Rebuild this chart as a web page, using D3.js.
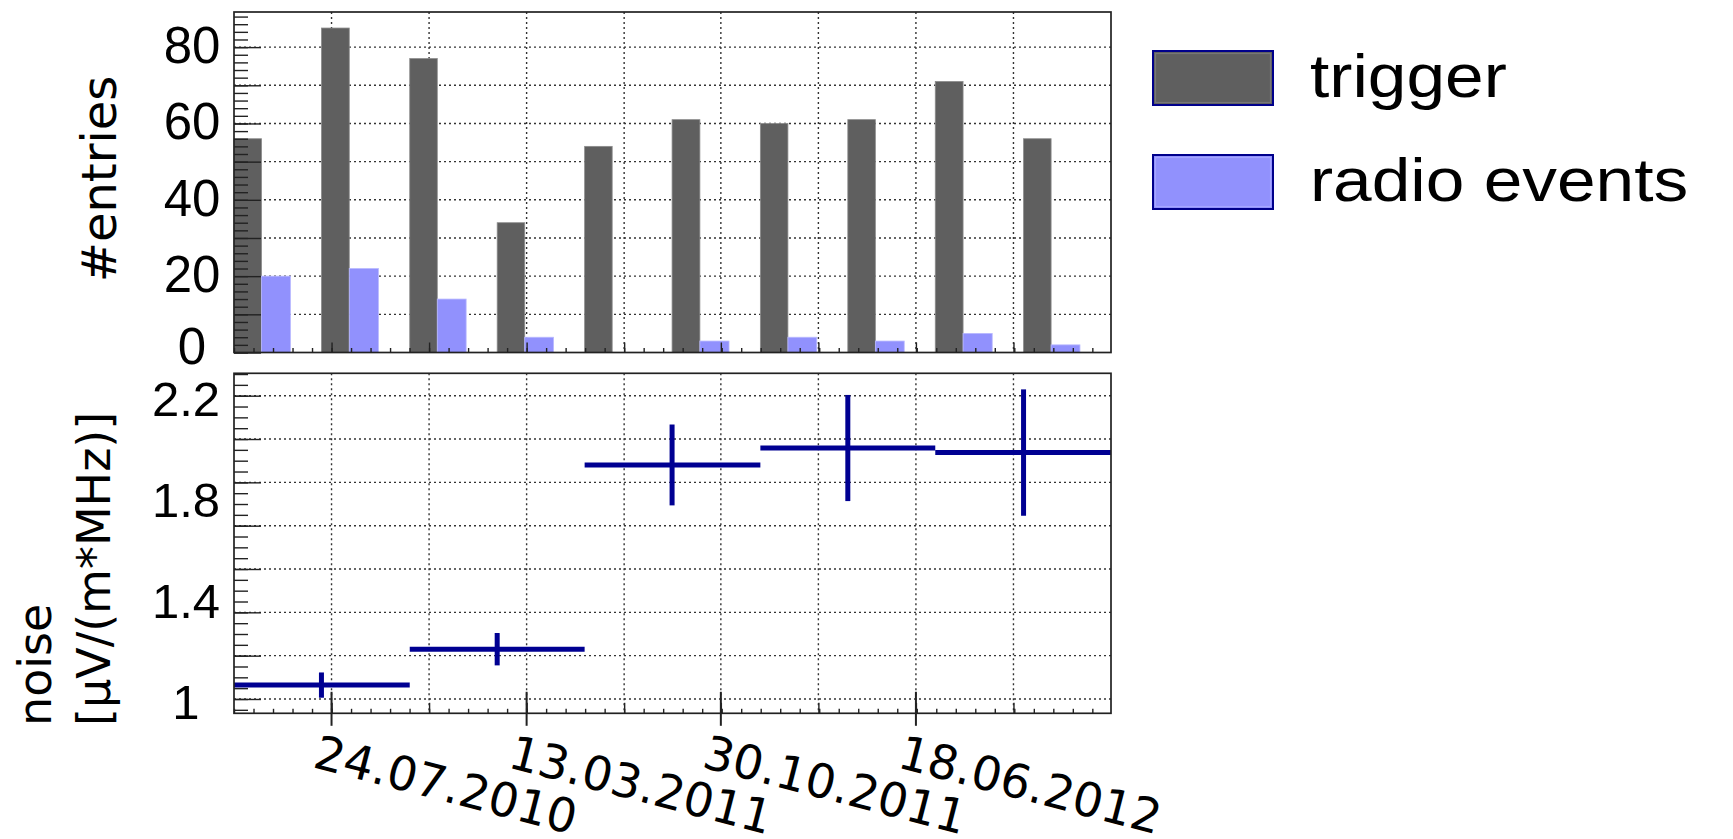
<!DOCTYPE html>
<html>
<head>
<meta charset="utf-8">
<script src="https://cdn.jsdelivr.net/npm/d3@7"></script>
<style>
  body { margin: 0; background: #fff; }
  svg { display: block; }
</style>
</head>
<body>
<svg id="chart" width="1733" height="839"></svg>
<script>
// Edges of the ten counting periods (two periods per noise measurement)
const binEdges = ["2010-03-30", "2010-07-12", "2010-10-25", "2011-02-06", "2011-05-21",
                  "2011-09-02", "2011-12-16", "2012-03-29", "2012-07-11", "2012-10-24", "2013-02-05"];
// Entries per period
const triggerCounts = [56, 85, 77, 34, 54, 61, 60, 61, 71, 56];
const radioCounts   = [20, 22, 14, 4, 0, 3, 4, 3, 5, 2];
// Noise level per pair of periods, with its uncertainty
const noiseValues = [1.055, 1.197, 1.926, 1.993, 1.975];
const noiseErrors = [0.050, 0.064, 0.160, 0.210, 0.250];
// Axis ticks and labels
const dateTickLabels = ["24.07.2010", "13.03.2011", "30.10.2011", "18.06.2012"];
const dateGridLines  = ["2010-07-24", "2010-11-17", "2011-03-13", "2011-07-07",
                        "2011-10-30", "2012-02-23", "2012-06-18", "2012-10-12"];
const countTicks = [0, 20, 40, 60, 80];
const noiseTicks = [1, 1.4, 1.8, 2.2];
const seriesNames = ["trigger", "radio events"];
const seriesColors = ["#5f5f5f", "#9191fd"];

const parseISO = d3.timeParse("%Y-%m-%d");
const parseDMY = d3.timeParse("%d.%m.%Y");
const edges = binEdges.map(parseISO);
const gridDates = dateGridLines.map(parseISO);
const labelDates = dateTickLabels.map(parseDMY);

const svg = d3.select("#chart");
const L = 234, R = 1111;
const top1 = 12, bot1 = 352.5;     // count panel
const top2 = 373.3, bot2 = 713.3;  // noise panel

const x = d3.scaleTime().domain([edges[0], edges[edges.length - 1]]).range([L, R]);
const yCount = d3.scaleLinear().domain([0, 89.2]).range([bot1, top1]);
const yNoise = d3.scaleLinear().domain([0.9434, 2.2886]).range([bot2, top2]);

const gridStyle = sel => sel.attr("stroke", "#333").attr("stroke-width", 1.4)
  .attr("stroke-dasharray", "2,3").attr("fill", "none");

// minor date ticks: five per grid interval
const gridStep = gridDates[1] - gridDates[0];
const minorDates = [];
for (let t = +edges[0]; t <= +edges[edges.length - 1] + 1; t += gridStep / 5) minorDates.push(new Date(t));

// ---------------- count panel ----------------
const g1 = svg.append("g");
g1.selectAll("line.hgrid").data(d3.range(10, 89, 10)).join("line")
  .attr("x1", L).attr("x2", R).attr("y1", d => yCount(d)).attr("y2", d => yCount(d)).call(gridStyle);
g1.selectAll("line.vgrid").data(gridDates).join("line")
  .attr("x1", d => x(d)).attr("x2", d => x(d)).attr("y1", top1).attr("y2", bot1).call(gridStyle);

const bins = triggerCounts.map((c, i) => ({ i, trig: c, radio: radioCounts[i], x0: edges[i], x1: edges[i + 1] }));
const bandW = d => x(d.x1) - x(d.x0);
g1.selectAll("rect.trig").data(bins).join("rect")
  .attr("x", d => x(d.x0)).attr("width", d => bandW(d) * 0.315)
  .attr("y", d => yCount(d.trig)).attr("height", d => yCount(0) - yCount(d.trig))
  .attr("fill", seriesColors[0]).attr("stroke", "#8c8c8c").attr("stroke-width", 0.8);
g1.selectAll("rect.radio").data(bins.filter(d => d.radio > 0)).join("rect")
  .attr("x", d => x(d.x0) + bandW(d) * 0.315).attr("width", d => bandW(d) * 0.33)
  .attr("y", d => yCount(d.radio)).attr("height", d => yCount(0) - yCount(d.radio))
  .attr("fill", seriesColors[1]).attr("stroke", "#b9b9ff").attr("stroke-width", 0.8);

// left ticks
g1.append("g").attr("transform", `translate(${L},0)`)
  .call(d3.axisLeft(yCount).tickValues(d3.range(0, 89, 2)).tickSizeInner(-14).tickSizeOuter(0).tickFormat(""))
  .call(a => a.select(".domain").remove());
g1.append("g").attr("transform", `translate(${L},0)`)
  .call(d3.axisLeft(yCount).tickValues(d3.range(0, 89, 10)).tickSizeInner(-27).tickSizeOuter(0).tickFormat(""))
  .call(a => a.select(".domain").remove());
// bottom ticks (inside)
g1.append("g").attr("transform", `translate(0,${bot1})`)
  .call(d3.axisBottom(x).tickValues(minorDates).tickSizeInner(-4.5).tickSizeOuter(0).tickFormat(""))
  .call(a => a.select(".domain").remove());
g1.append("g").attr("transform", `translate(0,${bot1})`)
  .call(d3.axisBottom(x).tickValues(gridDates).tickSizeInner(-10).tickSizeOuter(0).tickFormat(""))
  .call(a => a.select(".domain").remove());
g1.selectAll(".tick line").attr("stroke", "#222").attr("stroke-width", 1.4);

g1.append("rect").attr("x", L).attr("y", top1).attr("width", R - L).attr("height", bot1 - top1)
  .attr("fill", "none").attr("stroke", "#222").attr("stroke-width", 1.7);

g1.selectAll("text.ytick").data(countTicks).join("text")
  .attr("x", 192).attr("y", d => yCount(d) + (d === 0 ? 11 : 16))
  .attr("text-anchor", "middle").attr("font-family", "Liberation Sans, Arial, sans-serif")
  .attr("font-size", 51).attr("fill", "#000").text(d => d);

svg.append("text").attr("transform", "translate(116,179) rotate(-90)")
  .attr("text-anchor", "middle").attr("font-family", "DejaVu Sans, sans-serif")
  .attr("font-size", 48).attr("fill", "#000").text("#entries");

// ---------------- noise panel ----------------
const g2 = svg.append("g");
const noiseStep = (2.2 - 1.0) / 7;
const noiseGrid = d3.range(8).map(k => 1 + k * noiseStep);
const noiseMinor = d3.range(-1, 34).map(k => 1 + k * noiseStep / 4)
  .filter(v => v >= yNoise.domain()[0] && v <= yNoise.domain()[1]);

g2.selectAll("line.hgrid").data(noiseGrid).join("line")
  .attr("x1", L).attr("x2", R).attr("y1", d => yNoise(d)).attr("y2", d => yNoise(d)).call(gridStyle);
g2.selectAll("line.vgrid").data(gridDates).join("line")
  .attr("x1", d => x(d)).attr("x2", d => x(d)).attr("y1", top2).attr("y2", bot2).call(gridStyle);

g2.append("g").attr("transform", `translate(${L},0)`)
  .call(d3.axisLeft(yNoise).tickValues(noiseMinor).tickSizeInner(-14).tickSizeOuter(0).tickFormat(""))
  .call(a => a.select(".domain").remove());
g2.append("g").attr("transform", `translate(${L},0)`)
  .call(d3.axisLeft(yNoise).tickValues(noiseGrid).tickSizeInner(-27).tickSizeOuter(0).tickFormat(""))
  .call(a => a.select(".domain").remove());
g2.append("g").attr("transform", `translate(0,${bot2})`)
  .call(d3.axisBottom(x).tickValues(minorDates).tickSizeInner(-4.5).tickSizeOuter(0).tickFormat(""))
  .call(a => a.select(".domain").remove());
g2.append("g").attr("transform", `translate(0,${bot2})`)
  .call(d3.axisBottom(x).tickValues(gridDates).tickSizeInner(-10.5).tickSizeOuter(0).tickFormat(""))
  .call(a => a.select(".domain").remove());
g2.selectAll(".tick line").attr("stroke", "#222").attr("stroke-width", 1.4);
// labelled date ticks cross the axis
g2.selectAll("line.major").data(labelDates).join("line")
  .attr("x1", d => x(d)).attr("x2", d => x(d)).attr("y1", bot2 - 21.5).attr("y2", bot2 + 12.5)
  .attr("stroke", "#222").attr("stroke-width", 2);

// noise measurements: horizontal span over two periods, vertical uncertainty
const noise = noiseValues.map((v, k) => ({ v, e: noiseErrors[k], x0: edges[2 * k], xc: edges[2 * k + 1], x1: edges[2 * k + 2] }));
const navy = "#000092";
g2.selectAll("line.span").data(noise).join("line")
  .attr("x1", d => x(d.x0)).attr("x2", d => x(d.x1)).attr("y1", d => yNoise(d.v)).attr("y2", d => yNoise(d.v))
  .attr("stroke", navy).attr("stroke-width", 5);
g2.selectAll("line.err").data(noise).join("line")
  .attr("x1", d => x(d.xc)).attr("x2", d => x(d.xc)).attr("y1", d => yNoise(d.v - d.e)).attr("y2", d => yNoise(d.v + d.e))
  .attr("stroke", navy).attr("stroke-width", 5);

g2.append("rect").attr("x", L).attr("y", top2).attr("width", R - L).attr("height", bot2 - top2)
  .attr("fill", "none").attr("stroke", "#222").attr("stroke-width", 1.7);

g2.selectAll("text.ytick").data(noiseTicks).join("text")
  .attr("x", 186).attr("y", d => yNoise(d) + 20)
  .attr("text-anchor", "middle").attr("font-family", "Liberation Sans, Arial, sans-serif")
  .attr("font-size", 49).attr("fill", "#000").text(d => d);

g2.selectAll("text.date").data(labelDates).join("text")
  .attr("transform", d => `translate(${x(d) - 20},767) rotate(14.5)`)
  .attr("font-family", "DejaVu Sans, sans-serif").attr("font-size", 47).attr("fill", "#000")
  .text((d, i) => dateTickLabels[i]);

const ylab = svg.append("g").attr("font-family", "DejaVu Sans, sans-serif").attr("font-size", 46).attr("fill", "#000");
ylab.append("text").attr("transform", "translate(51,726) rotate(-90)").text("noise");
ylab.append("text").attr("transform", "translate(110,726) rotate(-90)").text("[µV/(m*MHz)]");

// ---------------- legend ----------------
const leg = svg.append("g");
seriesNames.forEach((name, i) => {
  const yy = 51 + i * 104;
  leg.append("rect").attr("x", 1153).attr("y", yy).attr("width", 120).attr("height", 54)
    .attr("fill", seriesColors[i]).attr("stroke", "#00008b").attr("stroke-width", 2);
  leg.append("rect").attr("x", 1155.5).attr("y", yy + 2.5).attr("width", 115).attr("height", 49)
    .attr("fill", "none").attr("stroke", i === 0 ? "#777" : "#a6a6ff").attr("stroke-width", 1.2);
  leg.append("text").attr("transform", `translate(1310,${yy + 46}) scale(1.12,1)`)
    .attr("font-family", "Liberation Sans, Arial, sans-serif").attr("font-size", 62).attr("fill", "#000")
    .text(name);
});
</script>
</body>
</html>
